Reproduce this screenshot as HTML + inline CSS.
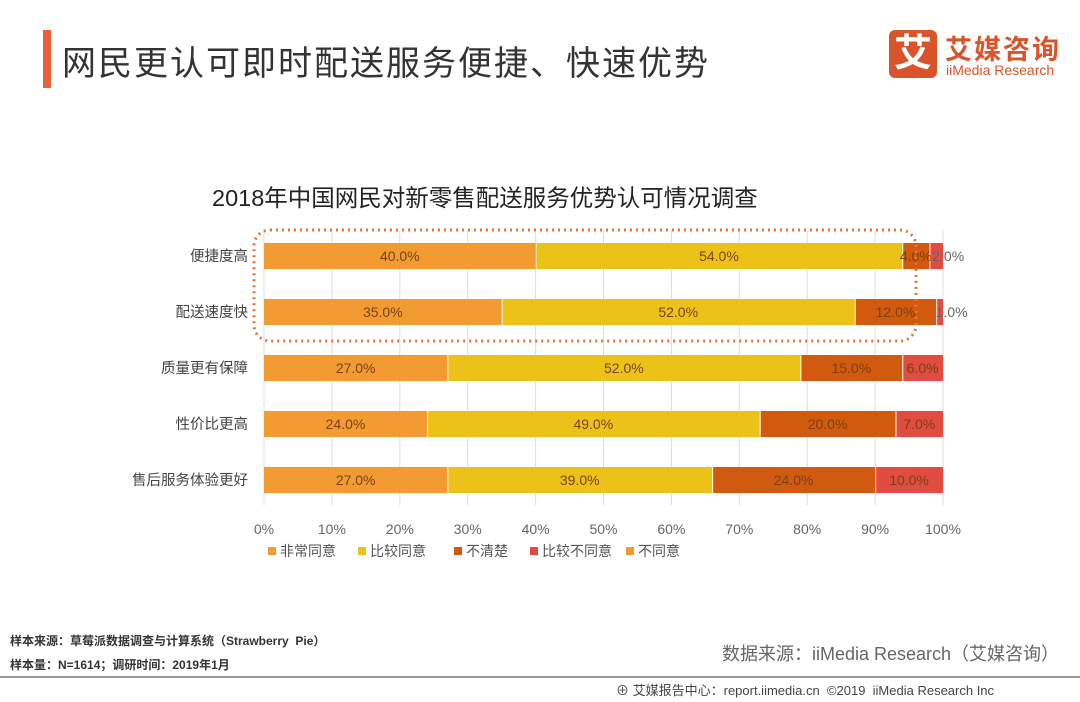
<!DOCTYPE html>
<html><head><meta charset="utf-8"><style>
body{margin:0;width:1080px;height:702px;background:#fff;overflow:hidden;font-family:"Liberation Sans","Noto Sans CJK SC",sans-serif;position:relative}
.abs{position:absolute}
</style></head><body>
<div class="abs" style="left:43px;top:30px;width:8px;height:58px;background:#e8623a"></div>
<div class="abs" style="left:62px;top:36px;font-size:34px;color:#333;letter-spacing:2px">网民更认可即时配送服务便捷、快速优势</div>
<div class="abs" style="left:889px;top:30px;width:48px;height:48px;background:#d9542b;border-radius:6px;color:#fff;font-size:38px;line-height:48px;text-align:center;font-weight:bold">艾</div>
<div class="abs" style="left:945px;top:28px;font-size:27px;color:#d9542b;letter-spacing:2px;font-weight:bold">艾媒咨询</div>
<div class="abs" style="left:946px;top:62px;font-size:14px;color:#d9542b">iiMedia Research</div>
<div class="abs" style="left:212px;top:179px;font-size:23.5px;color:#222">2018年中国网民对新零售配送服务优势认可情况调查</div>
<svg class="abs" style="left:0;top:0" width="1080" height="702" id="chart"></svg>
<div class="abs" style="left:10px;top:632px;font-size:12px;color:#333;font-weight:bold">样本来源：草莓派数据调查与计算系统（Strawberry&nbsp;&nbsp;Pie）</div>
<div class="abs" style="left:10px;top:656px;font-size:12px;color:#333;font-weight:bold">样本量：N=1614；调研时间：2019年1月</div>
<div class="abs" style="left:722px;top:640px;font-size:18px;color:#666">数据来源：iiMedia Research（艾媒咨询）</div>
<div class="abs" style="left:0;top:676px;width:1080px;height:2px;background:#999"></div>
<div class="abs" style="left:616px;top:680px;font-size:13px;color:#444">⊕ 艾媒报告中心：report.iimedia.cn&nbsp;&nbsp;©2019&nbsp;&nbsp;iiMedia Research Inc</div>
<script>
const categories=["便捷度高","配送速度快","质量更有保障","性价比更高","售后服务体验更好"];
const seriesNames=["非常同意","比较同意","不清楚","比较不同意","不同意"];
const s1=[40,35,27,24,27];
const s2=[54,52,52,49,39];
const s3=[4,12,15,20,24];
const s4=[2,1,6,7,10];
const s5=[0,0,0,0,0];
const ticks=[0,10,20,30,40,50,60,70,80,90,100];
const colors=["#f29b30","#ecc218","#d25a0e","#e24c40","#f29b30"];
const series=[s1,s2,s3,s4,s5];
const svg=document.getElementById('chart');
const NS="http://www.w3.org/2000/svg";
const x=v=>264+v*6.79;
const y=i=>256+i*56;
function mk(t,a){const e=document.createElementNS(NS,t);for(const k in a)e.setAttribute(k,a[k]);svg.appendChild(e);return e;}
ticks.forEach(t=>{
 const g=mk('line',{x1:x(t),x2:x(t),y1:230,y2:505,stroke:'#ddd','stroke-width':1});
 
 
 const l=mk('text',{x:x(t),y:534,'text-anchor':'middle','font-size':14,fill:'#666'});
 l.textContent=t+'%';
 
 
});
categories.forEach((c,i)=>{
 const l=mk('text',{x:248,y:y(i)+5,'text-anchor':'end','font-size':14.5,fill:'#444'});
 l.textContent=c;
 
 
 let acc=0;
 series.forEach((s,k)=>{
  const v=s[i];
  const r=mk('rect',{x:x(acc)+(acc>0?1:0),y:y(i)-13,width:Math.max(0,x(v)-x(0)-(acc>0?1:0)),height:26,fill:colors[k]});
  
  
  if(v>0){
   const tl=mk('text',{x:x(acc+v/2)+(v<3?12:0),y:y(i)+5,'text-anchor':'middle','font-size':14,fill:v<3?'#666':'#7a4210'});
   tl.textContent=v.toFixed(1)+'%';
   
   
  }
  acc+=v;
 });
});
const hl=mk('rect',{x:254,y:230,width:662,height:111,rx:16,fill:'none',stroke:'#e0783a','stroke-width':3,'stroke-dasharray':'2 4'});


const lx=[268,358,454,530,626];
seriesNames.forEach((n,k)=>{
 const r=mk('rect',{x:lx[k],y:547,width:8,height:8,fill:colors[k]});
 
 
 const t=mk('text',{x:lx[k]+12,y:556,'font-size':14,fill:'#555'});
 t.textContent=n;
 
 
});
</script>
</body></html>
